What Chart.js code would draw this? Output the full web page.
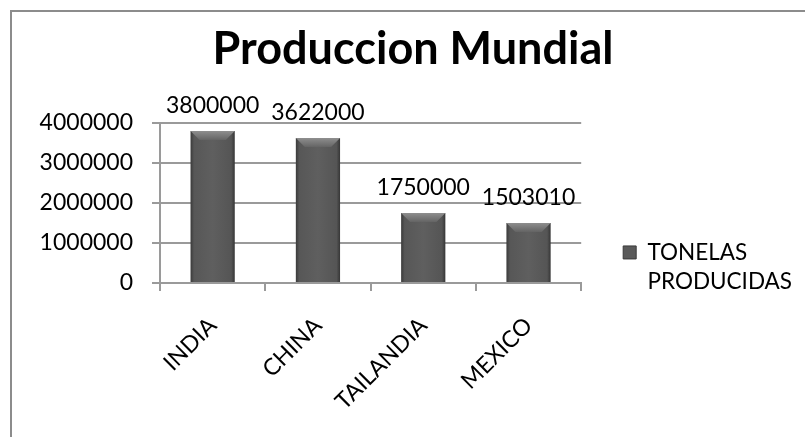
<!DOCTYPE html>
<html>
<head>
<meta charset="utf-8">
<script src="https://cdn.jsdelivr.net/npm/chart.js@4"></script>
<style>
    html, body { margin: 0; padding: 0; background: #ffffff; }
    #marco {
        position: absolute; left: 10px; top: 10px; width: 795px; height: 427px;
        border-top: 2px solid #8c8c8c; border-left: 2px solid #8c8c8c;
        box-sizing: border-box; background: #ffffff;
    }
    #chartProduccion { display: block; }
</style>
</head>
<body>
<div id="marco"><canvas id="chartProduccion" width="793" height="425"></canvas></div>
<script>
const paises = ["INDIA", "CHINA", "TAILANDIA", "MEXICO"];
const toneladas = [3800000, 3622000, 1750000, 1503010];
const ticksY = [0, 1000000, 2000000, 3000000, 4000000];
const serie = ["TONELAS", "PRODUCIDAS"];

const fuente = "Lato, 'Open Sans', sans-serif";
const anchoBarra = 0.42;

function rellenoBarra(ctx) {
    const chart = ctx.chart;
    const x = chart.scales.x;
    if (!x || ctx.dataIndex === undefined) return "#5a5a5a";
    const cx = x.getPixelForValue(ctx.dataIndex);
    const mitad = (x.width / paises.length) * anchoBarra / 2;
    if (!isFinite(cx) || !isFinite(mitad) || mitad <= 0) return "#5a5a5a";
    const g = chart.ctx.createLinearGradient(cx - mitad, 0, cx + mitad, 0);
    g.addColorStop(0, "#3a3a3a");
    g.addColorStop(0.08, "#575757");
    g.addColorStop(0.5, "#5f5f5f");
    g.addColorStop(0.92, "#555555");
    g.addColorStop(1, "#363636");
    return g;
}

// bisel claro arriba de cada barra + valores encima
const etiquetasValor = {
    id: "etiquetasValor",
    afterDatasetsDraw(chart) {
        const c = chart.ctx;
        const barras = chart.getDatasetMeta(0).data;
        c.save();
        barras.forEach((bar) => {
            const w = bar.width / 2;
            const b = Math.min(9, bar.base - bar.y);
            const g = c.createLinearGradient(0, bar.y, 0, bar.y + b);
            g.addColorStop(0, "#8e8e8e");
            g.addColorStop(1, "#646464");
            c.fillStyle = g;
            c.beginPath();
            c.moveTo(bar.x - w, bar.y);
            c.lineTo(bar.x + w, bar.y);
            c.lineTo(bar.x + w - b, bar.y + b);
            c.lineTo(bar.x - w + b, bar.y + b);
            c.closePath();
            c.fill();
        });
        c.font = "23px " + fuente;
        c.fillStyle = "#000000";
        c.textAlign = "center";
        c.textBaseline = "alphabetic";
        barras.forEach((bar, i) => {
            c.fillText(String(toneladas[i]), bar.x, bar.y - 18);
        });
        c.restore();
    },
};

new Chart(document.getElementById("chartProduccion").getContext("2d"), {
    type: "bar",
    data: {
        labels: paises,
        datasets: [
            {
                label: serie.join(" "),
                data: toneladas,
                backgroundColor: rellenoBarra,
                borderWidth: 0,
                categoryPercentage: 1,
                barPercentage: anchoBarra,
            },
        ],
    },
    options: {
        responsive: false,
        animation: false,
        layout: { padding: { left: 12, right: 3, top: 0, bottom: 0 } },
        plugins: {
            title: {
                display: true,
                text: "Produccion Mundial",
                color: "#000000",
                font: { family: fuente, size: 45, weight: "bold" },
                padding: { top: 10, bottom: 47 },
            },
            legend: {
                position: "right",
                align: "start",
                maxWidth: 320,
                title: {
                    display: true,
                    text: " ",
                    font: { size: 1 },
                    padding: { top: 186, bottom: 0 },
                },
                labels: {
                    color: "#000000",
                    font: { family: fuente, size: 22.5, lineHeight: 1.3 },
                    boxWidth: 13,
                    boxHeight: 13,
                    padding: 42,
                    generateLabels: () => [
                        {
                            text: serie,
                            fillStyle: "#5a5a5a",
                            strokeStyle: "#3a3a3a",
                            fontColor: "#000000",
                            lineWidth: 1,
                            datasetIndex: 0,
                        },
                    ],
                },
            },
            tooltip: { enabled: false },
        },
        scales: {
            y: {
                min: 0,
                max: 4000000,
                afterBuildTicks: (scale) => {
                    scale.ticks = ticksY.map((v) => ({ value: v }));
                },
                afterFit: (scale) => {
                    scale.width = 136;
                },
                ticks: {
                    color: "#000000",
                    font: { family: fuente, size: 23 },
                    padding: 19,
                    callback: (v) => String(v),
                },
                grid: { color: "#9a9a9a", lineWidth: 2, tickLength: 8 },
                border: { color: "#9a9a9a", width: 2 },
            },
            x: {
                afterFit: (scale) => {
                    scale.height = 154;
                },
                ticks: {
                    color: "#000000",
                    font: { family: fuente, size: 23 },
                    minRotation: 45,
                    maxRotation: 45,
                    padding: 21,
                },
                grid: {
                    color: "#9a9a9a",
                    lineWidth: 2,
                    drawOnChartArea: false,
                    tickLength: 8,
                    offset: true,
                },
                border: { color: "#9a9a9a", width: 2 },
            },
        },
    },
    plugins: [etiquetasValor],
});
</script>
</body>
</html>
